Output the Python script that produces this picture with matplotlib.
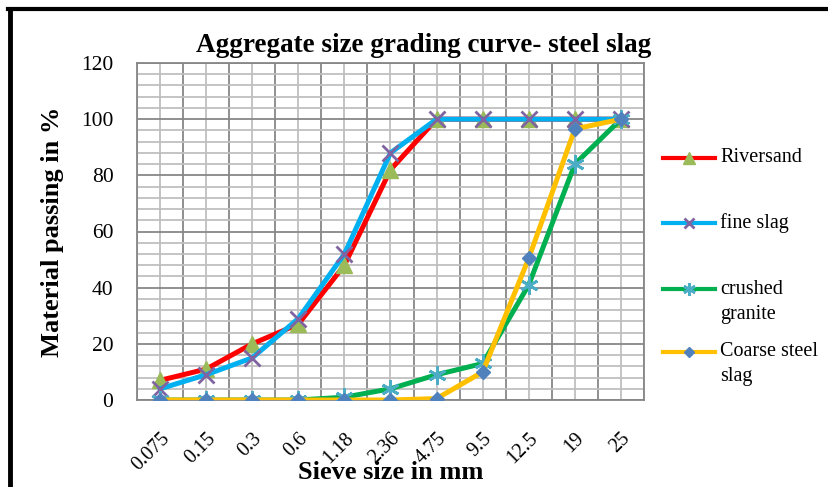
import numpy as np
from matplotlib import pyplot as plt
from matplotlib.lines import Line2D

sieve = ["0.075", "0.15", "0.3", "0.6", "1.18", "2.36", "4.75", "9.5", "12.5", "19", "25"]
riversand = [7, 11, 20, 27, 48, 82, 100, 100, 100, 100, 100]
fine_slag = [4, 9, 15, 29, 52, 88, 100, 100, 100, 100, 100]
crushed_granite = [0, 0, 0, 0, 1, 4, 9, 13, 41, 84, 100]
coarse_slag = [0, 0, 0, 0, 0, 0, 0.5, 10, 50.5, 96.5, 100]

plt.rcParams['font.family'] = ['Liberation Serif', 'DejaVu Serif']

W, H = 829, 487
fig = plt.figure(figsize=(W / 100, H / 100), dpi=100)
ax = fig.add_axes([137 / W, 1 - 400 / H, (644 - 137) / W, (400 - 63) / H])

x = np.arange(len(sieve))
series = [
    (riversand, "Riversand", "#FF0000", dict(marker="^", ms=12, mfc="#9BBB59", mec="#9BBB59")),
    (fine_slag, "fine slag", "#00B0F0", dict(marker="x", ms=11, mec="#8064A2", mew=2)),
    (crushed_granite, "crushed\ngranite", "#00B050", dict(marker=(6, 2, 0), ms=13, mec="#4BACC6", mew=2)),
    (coarse_slag, "Coarse steel\nslag", "#FFC000", dict(marker="D", ms=7, mfc="#4F81BD", mec="#4F81BD")),
]
for vals, name, col, mk in series:
    ax.plot(x, vals, color=col, lw=3.6, zorder=3, **mk)

ax.set_xlim(-0.5, len(sieve) - 0.5)
ax.set_ylim(0, 120)
ax.set_xticks(x)
ax.set_xticklabels(sieve, rotation=45, ha="right", va="top", rotation_mode="anchor", fontsize=14.5)
ax.set_xticks(np.arange(-0.5, len(sieve)), minor=True)
ax.set_yticks(np.arange(0, 121, 20))
ax.set_yticks(np.arange(0, 121, 4), minor=True)
ax.tick_params(axis="x", which="both", length=0, pad=21)
ax.tick_params(axis="y", which="both", length=0, pad=17, labelsize=15.5)
ax.grid(axis="x", which="major", color="#BFBFBF", lw=1.3, zorder=0)
ax.grid(axis="x", which="minor", color="#878787", lw=1.3, zorder=0)
ax.grid(axis="y", which="major", color="#878787", lw=1.3, zorder=0)
ax.grid(axis="y", which="minor", color="#BFBFBF", lw=1.3, zorder=0)
ax.set_axisbelow(True)
for s in ax.spines.values():
    s.set_color("#878787")
    s.set_linewidth(1.3)

ax.set_xlabel("Sieve size in mm", fontsize=19, fontweight="bold")
ax.xaxis.set_label_coords(0.5, -(461 - 400) / 337)
ax.set_ylabel("Material passing in %", fontsize=19, fontweight="bold", labelpad=12)
fig.text(424 / W, 1 - 46 / H, "Aggregate size grading curve- steel slag",
         fontsize=19.5, fontweight="bold", ha="center", va="center")

# legend drawn by hand so the key sits on the first text line
leg_y = [158, 223, 289, 352]
for (vals, name, col, mk), ly in zip(series, leg_y):
    mk = dict(mk)
    mk["ms"] = mk["ms"] * 0.7
    fy = 1 - ly / H
    fig.add_artist(Line2D([663 / W, 715 / W], [fy, fy], color=col, lw=3))
    fig.add_artist(Line2D([689 / W], [fy], lw=0, **mk))
    fig.text(720 / W, fy, name.split("\n")[0], fontsize=14.5, va="center")
    if "\n" in name:
        fig.text(720 / W, fy - 25 / H, name.split("\n")[1], fontsize=14.5, va="center")

# frame edges left over from the page
fig.add_artist(Line2D([10 / W, 10 / W], [0, 1 - 9 / H], color="black", lw=3.5))
fig.add_artist(Line2D([8 / W, 1], [1 - 9 / H, 1 - 9 / H], color="black", lw=3))

fig.savefig("out.png", dpi=100)
